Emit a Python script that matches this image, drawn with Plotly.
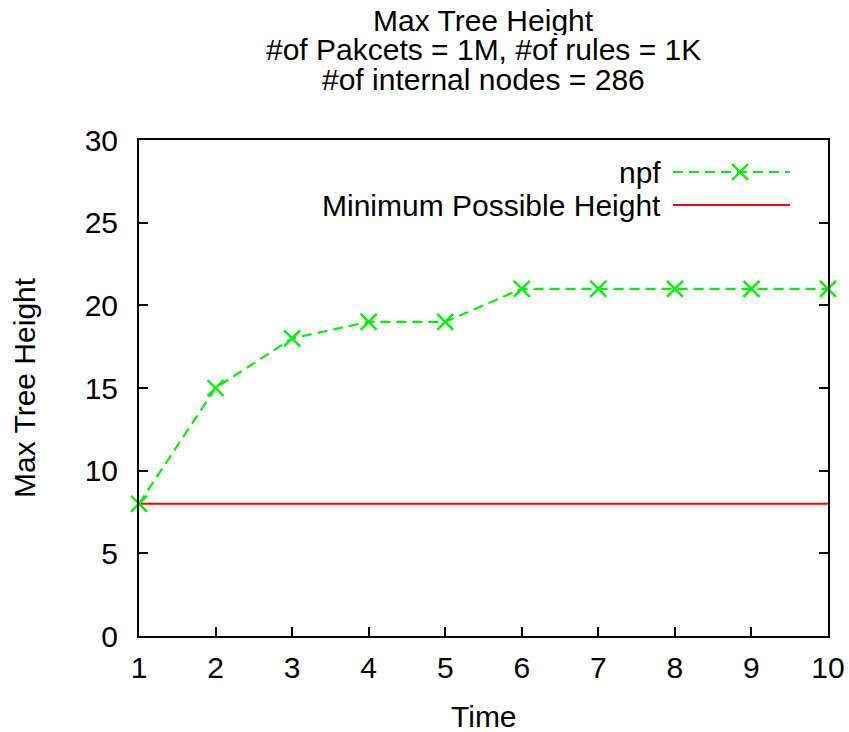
import plotly.graph_objects as go

time = [1, 2, 3, 4, 5, 6, 7, 8, 9, 10]
npf = [8, 15, 18, 19, 19, 21, 21, 21, 21, 21]
min_height = [8, 8, 8, 8, 8, 8, 8, 8, 8, 8]
y_ticks = [0, 5, 10, 15, 20, 25, 30]
series_names = ["npf", "Minimum Possible Height"]
title_lines = ["Max Tree Height", "#of Pakcets = 1M, #of rules = 1K", "#of internal nodes = 286"]

GREEN = "#00ee00"
RED = "#ff0000"
FONT = "Liberation Sans, Arial, sans-serif"
FS = 30

W, H = 849, 732
PL, PR, PT, PB = 139, 828, 140, 636          # plot box in page pixels
L, R, T, B = PL, W - PR, PT, H - PB
pw, ph = PR - PL, PB - PT


def px_x(p):
    return (p - PL) / pw


def px_y(p):
    return (PB - p) / ph


fig = go.Figure()
fig.add_trace(go.Scatter(
    x=time, y=min_height, mode="lines",
    line=dict(color=RED, width=2), showlegend=False, cliponaxis=False))
fig.add_trace(go.Scatter(
    x=time, y=npf, mode="lines+markers",
    line=dict(color=GREEN, width=2.2, dash="10px,6px"),
    marker=dict(symbol="x-thin-open", size=16, color=GREEN,
                line=dict(color=GREEN, width=2.4)),
    showlegend=False, cliponaxis=False))

# manual gnuplot-style legend (text left of sample) on an overlay axis (0..1)
leg_x = [px_x(673), px_x(790)]
leg_rows = [px_y(172), px_y(205)]
fig.add_trace(go.Scatter(
    x=leg_x, y=[leg_rows[0]] * 2, xaxis="x2", yaxis="y2", mode="lines",
    line=dict(color=GREEN, width=2.2, dash="10px,6px"), showlegend=False))
fig.add_trace(go.Scatter(
    x=[px_x(740)], y=[leg_rows[0]], xaxis="x2", yaxis="y2", mode="markers",
    marker=dict(symbol="x-thin-open", size=16, color=GREEN,
                line=dict(color=GREEN, width=2.4)),
    showlegend=False))
fig.add_trace(go.Scatter(
    x=leg_x, y=[leg_rows[1]] * 2, xaxis="x2", yaxis="y2", mode="lines",
    line=dict(color=RED, width=2), showlegend=False))
for name, row in zip(series_names, leg_rows):
    fig.add_annotation(x=px_x(663), y=row, xref="x2", yref="y2", text=name,
                       showarrow=False, xanchor="right", yanchor="middle",
                       font=dict(size=FS, color="black", family=FONT))

# title lines (gnuplot tight line spacing)
for ypage, line in zip([20, 49, 79], title_lines):
    fig.add_annotation(x=0.5, y=1, xref="paper", yref="paper",
                       yanchor="middle", xanchor="center", text=line,
                       showarrow=False, yshift=PT - ypage, height=29,
                       font=dict(size=FS, color="black", family=FONT))

# axis titles
fig.add_annotation(x=0.5, y=0, xref="paper", yref="paper", text="Time",
                   showarrow=False, xanchor="center", yanchor="middle",
                   yshift=-(716 - PB), font=dict(size=FS, family=FONT, color="black"))
fig.add_annotation(x=0, y=0.5, xref="paper", yref="paper", text="Max Tree Height",
                   showarrow=False, xanchor="center", yanchor="middle", textangle=-90,
                   xshift=-(PL - 24), font=dict(size=FS, family=FONT, color="black"))

fig.update_layout(
    width=W, height=H,
    margin=dict(l=L, r=R, t=T, b=B, autoexpand=False),
    paper_bgcolor="white", plot_bgcolor="white",
    font=dict(family=FONT, size=FS, color="black"),
    showlegend=False,
    xaxis=dict(
        range=[1, 10], tickvals=time, ticks="inside", ticklen=9, tickwidth=2,
        tickcolor="black", showline=True, linecolor="black", linewidth=2,
        mirror=True, showgrid=False, zeroline=False, automargin=False,
        ticklabelstandoff=4, tickfont=dict(size=FS)),
    yaxis=dict(
        range=[0, 30], tickvals=y_ticks, ticks="inside", ticklen=9, tickwidth=2,
        tickcolor="black", showline=True, linecolor="black", linewidth=2,
        mirror="ticks", showgrid=False, zeroline=False, automargin=False,
        ticklabelstandoff=13, tickfont=dict(size=FS)),
    xaxis2=dict(range=[0, 1], overlaying="x", visible=False, fixedrange=True),
    yaxis2=dict(range=[0, 1], overlaying="y", visible=False, fixedrange=True),
)

fig.write_html("out.html", config={"displayModeBar": False},
               post_script="document.body.style.margin='0';document.body.style.overflow='hidden';")
